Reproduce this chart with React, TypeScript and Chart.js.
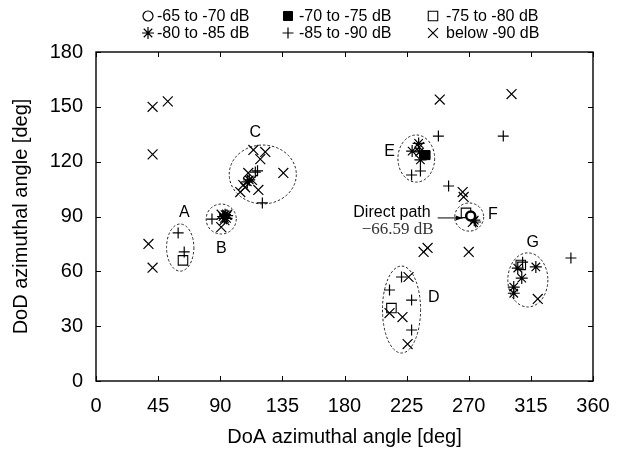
import { useEffect, useRef } from 'react';
import { Chart, registerables } from 'chart.js';

Chart.register(...registerables);

type Pt = [number, number];

// Received power classes: [DoA deg, DoD deg]
const band65to70: Pt[] = [[271.4, 90.3]];
const band70to75: Pt[] = [[238.7, 123.6]];
const band75to80: Pt[] = [[63, 66], [214, 39.9], [307.7, 63.5], [268, 92]];
const band80to85: Pt[] = [
  [92, 90], [93.5, 91], [94.5, 89], [95, 90.5], [93, 89],
  [111, 110], [109.6, 108.9],
  [233.7, 130], [229, 125.8], [234.4, 125.3], [235, 121],
  [274, 88],
  [305.5, 61.8], [318.6, 62.4], [308.4, 56.3], [302.6, 51.4], [302.6, 48],
];
const band85to90: Pt[] = [
  [59.5, 81], [63.9, 70.6],
  [84, 88.6],
  [115.4, 114.3], [117, 115], [120.5, 97.4],
  [235, 114.9], [228.6, 112.7],
  [248, 134], [295, 134], [255.4, 106.7], [344, 67.3],
  [275, 87],
  [221.3, 56.9], [212.6, 49.8], [228.6, 44.3], [228.6, 27.9],
  [309, 65],
];
const bandBelow90: Pt[] = [
  [41, 150], [52, 153], [41, 124], [38, 75], [41, 62],
  [93, 88], [91, 91], [95, 91], [90.7, 84.2],
  [114, 126.4], [122.6, 125.3], [119, 121.4], [135.7, 113.8], [110.3, 113.8],
  [113, 110], [106.7, 107.2], [104.5, 103.4], [117.6, 104.5], [108, 106],
  [234, 128],
  [249, 154], [301, 157], [265.6, 103.4], [266.3, 100.7],
  [237.3, 70.6], [240.2, 72.8], [270, 70.6],
  [273, 87],
  [226.4, 56.9], [212.6, 37.2], [222, 35], [225.7, 20.2],
  [320, 44.9],
];

const bandLabels = ['-65 to -70 dB', '-70 to -75 dB', '-75 to -80 dB', '-80 to -85 dB', '-85 to -90 dB', 'below -90 dB'];

const xTicks = [0, 45, 90, 135, 180, 225, 270, 315, 360];
const yTicks = [0, 30, 60, 90, 120, 150, 180];

// Clusters: name, centre and half-axes in degrees, label anchor
const clusterNames = ['A', 'B', 'C', 'D', 'E', 'F', 'G'];
const clusterCenters: Pt[] = [[61, 73], [90.7, 88.6], [120.8, 113], [221.3, 39.1], [232, 121.7], [270.3, 89.7], [312.8, 55.3]];
const clusterRadii: Pt[] = [[9.9, 12.9], [10.9, 8.2], [24.3, 16.1], [13.8, 23.8], [13.3, 12.9], [10.5, 7.7], [14.5, 14.8]];
const clusterLabelAt: Pt[] = [[63.9, 91.9], [90.7, 72.7], [115.4, 135.7], [244.6, 45.4], [212.6, 125.3], [287.4, 90.8], [316.4, 75.5]];

const directPath: Pt = [271.4, 90.3];
const directPathDb = -66.59;

const SANS = '"Liberation Sans", Arial, Helvetica, sans-serif';
const SERIF = '"Liberation Serif", "Times New Roman", serif';

type MarkStyle = { pointStyle: string; radius: number; fill: string; lw: number };
const markStyles: MarkStyle[] = [
  { pointStyle: 'circle', radius: 4.5, fill: '#ffffff', lw: 2.5 },
  { pointStyle: 'rect', radius: 6.4, fill: '#000000', lw: 1 },
  { pointStyle: 'rect', radius: 6.7, fill: 'rgba(0,0,0,0)', lw: 1.1 },
  { pointStyle: 'star', radius: 6, fill: '#000000', lw: 1.2 },
  { pointStyle: 'cross', radius: 5.5, fill: '#000000', lw: 1.2 },
  { pointStyle: 'crossRot', radius: 7, fill: '#000000', lw: 1.2 },
];
// legend keys use a thin open circle for the strongest class
const legendMarkStyles: MarkStyle[] = markStyles.map((s, i) =>
  i === 0 ? { ...s, radius: 5, lw: 1.2 } : s,
);

function drawMark(ctx: CanvasRenderingContext2D, s: MarkStyle, x: number, y: number) {
  ctx.save();
  ctx.strokeStyle = '#000';
  ctx.fillStyle = s.fill;
  ctx.lineWidth = s.lw;
  const r = s.radius;
  ctx.beginPath();
  if (s.pointStyle === 'circle') {
    ctx.arc(x, y, r, 0, Math.PI * 2);
    ctx.fill();
    ctx.stroke();
  } else if (s.pointStyle === 'rect') {
    const h = r / Math.SQRT2;
    ctx.rect(x - h, y - h, 2 * h, 2 * h);
    ctx.fill();
    ctx.stroke();
  } else {
    const d = r * Math.SQRT1_2;
    if (s.pointStyle === 'cross' || s.pointStyle === 'star') {
      ctx.moveTo(x - r, y); ctx.lineTo(x + r, y);
      ctx.moveTo(x, y - r); ctx.lineTo(x, y + r);
    }
    if (s.pointStyle === 'crossRot' || s.pointStyle === 'star') {
      ctx.moveTo(x - d, y - d); ctx.lineTo(x + d, y + d);
      ctx.moveTo(x - d, y + d); ctx.lineTo(x + d, y - d);
    }
    ctx.stroke();
  }
  ctx.restore();
}

const decorPlugin = {
  id: 'decor',
  beforeDatasetsDraw(chart: any) {
    const { ctx, scales } = chart;
    const xs = scales.x;
    const ys = scales.y;
    ctx.save();
    ctx.strokeStyle = '#222';
    ctx.lineWidth = 1;
    ctx.setLineDash([2.5, 2]);
    clusterCenters.forEach(([cx, cy], i) => {
      const px = xs.getPixelForValue(cx);
      const py = ys.getPixelForValue(cy);
      const rx = Math.abs(xs.getPixelForValue(cx + clusterRadii[i][0]) - px);
      const ry = Math.abs(ys.getPixelForValue(cy + clusterRadii[i][1]) - py);
      ctx.beginPath();
      ctx.ellipse(px, py, rx, ry, 0, 0, Math.PI * 2);
      ctx.stroke();
    });
    ctx.restore();
  },
  afterDatasetsDraw(chart: any) {
    const { ctx, chartArea: a, scales } = chart;
    const xs = scales.x;
    const ys = scales.y;
    ctx.save();

    // frame with inward ticks
    ctx.strokeStyle = '#000';
    ctx.lineWidth = 1.4;
    ctx.strokeRect(a.left, a.top, a.right - a.left, a.bottom - a.top);
    ctx.lineWidth = 1;
    const tl = 5;
    ctx.beginPath();
    xTicks.forEach((v) => {
      const p = Math.round(xs.getPixelForValue(v)) + 0.5;
      ctx.moveTo(p, a.bottom); ctx.lineTo(p, a.bottom - tl);
      ctx.moveTo(p, a.top); ctx.lineTo(p, a.top + tl);
    });
    yTicks.forEach((v) => {
      const p = Math.round(ys.getPixelForValue(v)) + 0.5;
      ctx.moveTo(a.left, p); ctx.lineTo(a.left + tl, p);
      ctx.moveTo(a.right, p); ctx.lineTo(a.right - tl, p);
    });
    ctx.stroke();

    // cluster letters
    ctx.fillStyle = '#000';
    ctx.font = `16px ${SANS}`;
    ctx.textAlign = 'center';
    ctx.textBaseline = 'middle';
    clusterNames.forEach((n, i) => {
      ctx.fillText(n, xs.getPixelForValue(clusterLabelAt[i][0]), ys.getPixelForValue(clusterLabelAt[i][1]));
    });

    // direct path annotation
    const dx = xs.getPixelForValue(directPath[0]);
    const dy = ys.getPixelForValue(directPath[1]);
    const tipX = dx - 8;
    const tailX = dx - 33;
    const ay = dy + 2;
    ctx.lineWidth = 1;
    ctx.beginPath();
    ctx.moveTo(tailX, ay); ctx.lineTo(tipX, ay);
    ctx.stroke();
    ctx.beginPath();
    ctx.moveTo(tipX, ay); ctx.lineTo(tipX - 7, ay - 2.5); ctx.lineTo(tipX - 7, ay + 2.5); ctx.closePath();
    ctx.fill();
    ctx.textAlign = 'right';
    ctx.font = `16px ${SANS}`;
    ctx.fillText('Direct path', tailX - 7, dy - 3);
    ctx.font = `17px ${SERIF}`;
    ctx.fillStyle = '#333';
    ctx.fillText(`\u2212${Math.abs(directPathDb).toFixed(2)} dB`, tailX - 4, dy + 14);

    // axis titles
    ctx.fillStyle = '#000';
    ctx.font = `20px ${SANS}`;
    ctx.textAlign = 'center';
    ctx.fillText('DoA azimuthal angle [deg]', (a.left + a.right) / 2, 437);
    ctx.save();
    ctx.translate(21, (a.top + a.bottom) / 2);
    ctx.rotate(-Math.PI / 2);
    ctx.fillText('DoD azimuthal angle [deg]', 0, 0);
    ctx.restore();

    // legend: 3 columns x 2 rows above the frame
    const colMark = [148, 288, 433];
    const colText = [157, 299, 446];
    const rowY = [16, 33];
    ctx.font = `16px ${SANS}`;
    ctx.textAlign = 'left';
    bandLabels.forEach((lab, i) => {
      const c = i % 3;
      const r = Math.floor(i / 3);
      drawMark(ctx, legendMarkStyles[i], colMark[c], rowY[r]);
      ctx.fillStyle = '#000';
      ctx.fillText(lab, colText[c], rowY[r] + 1);
    });

    ctx.restore();
  },
};

const bands: Pt[][] = [band65to70, band70to75, band75to80, band80to85, band85to90, bandBelow90];

export default function App() {
  const canvasRef = useRef<HTMLCanvasElement | null>(null);

  useEffect(() => {
    const canvas = canvasRef.current;
    if (!canvas) return;
    const chart = new Chart(canvas, {
      type: 'scatter',
      data: {
        datasets: bands.map((pts, i) => ({
          label: bandLabels[i],
          data: pts.map(([x, y]) => ({ x, y })),
          pointStyle: markStyles[i].pointStyle as any,
          pointRadius: markStyles[i].radius,
          pointBorderWidth: markStyles[i].lw,
          borderColor: '#000',
          backgroundColor: markStyles[i].fill,
          showLine: false,
        })),
      },
      options: {
        animation: false,
        responsive: false,
        events: [],
        layout: { padding: { left: 0, top: 52, right: 35, bottom: 0 } },
        plugins: { legend: { display: false }, tooltip: { enabled: false } },
        scales: {
          x: {
            type: 'linear',
            min: 0,
            max: 360,
            afterBuildTicks: (s: any) => { s.ticks = xTicks.map((v) => ({ value: v })); },
            afterFit: (s: any) => { s.height = 73; },
            grid: { display: false, drawTicks: false },
            border: { display: false },
            ticks: { color: '#000', font: { family: SANS, size: 20 }, padding: 13, maxRotation: 0, autoSkip: false },
          },
          y: {
            type: 'linear',
            min: 0,
            max: 180,
            afterBuildTicks: (s: any) => { s.ticks = yTicks.map((v) => ({ value: v })); },
            afterFit: (s: any) => { s.width = 96; },
            grid: { display: false, drawTicks: false },
            border: { display: false },
            ticks: { color: '#000', font: { family: SANS, size: 20 }, padding: 13, autoSkip: false },
          },
        },
      },
      plugins: [decorPlugin],
    });
    return () => chart.destroy();
  }, []);

  return (
    <div style={{ position: 'fixed', left: 0, top: 0, width: 628, height: 454, background: '#fff' }}>
      <canvas ref={canvasRef} width={628} height={454} style={{ width: 628, height: 454 }} />
    </div>
  );
}
